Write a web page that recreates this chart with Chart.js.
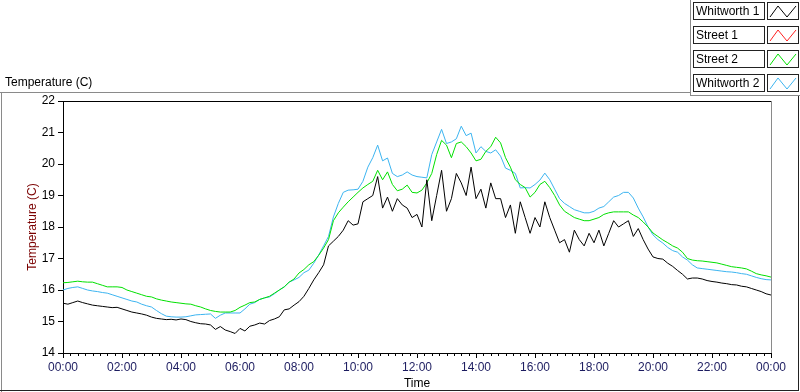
<!DOCTYPE html>
<html>
<head>
<meta charset="utf-8">
<script src="https://cdn.jsdelivr.net/npm/chart.js@4.4.0/dist/chart.umd.min.js"></script>
<style>
  body { margin: 0; background: #fff; font-family: "Liberation Sans", Arial, sans-serif; }
  #wrap { position: relative; width: 800px; height: 392px; overflow: hidden; }
  #myChart { position: absolute; left: 0; top: 0; }
  .ln { position: absolute; }
  #ttl { position: absolute; left: 5px; top: 75px; font-size: 12px; color: #000; }
  .lg-name { position: absolute; left: 693px; width: 68px; height: 16px; border: 1px solid #222;
             font-size: 12px; line-height: 16px; padding-left: 2px; box-sizing: content-box; color: #000; }
  .lg-sw { position: absolute; left: 767px; width: 30px; height: 16px; border: 1px solid #222; }
</style>
</head>
<body>
<div id="wrap">
  <canvas id="myChart" width="800" height="392"></canvas>
  <div id="ttl">Temperature (C)</div>
  <!-- panel frame -->
  <div class="ln" style="left:0;top:92px;width:690px;height:1px;background:#8a8a8a"></div>
  <div class="ln" style="left:1px;top:92px;width:1px;height:300px;background:#8a8a8a"></div>
  <div class="ln" style="left:690px;top:0;width:1px;height:96px;background:#8a8a8a"></div>
  <div class="ln" style="left:690px;top:95px;width:110px;height:1px;background:#8a8a8a"></div>
  <div class="ln" style="left:0;top:390px;width:799px;height:1px;background:#222"></div>
  <div class="ln" style="left:798px;top:96px;width:1px;height:295px;background:#222"></div>
  <div id="legend"></div>
</div>
<script>
// 10-minute samples, 00:00 .. 24:00
let seriesNames = ["Whitworth 1", "Street 1", "Street 2", "Whitworth 2"];
let seriesColors = ["#000000", "#ff2020", "#00e000", "#3cb4f0"];

let whitworth1 = [
    15.58, 15.55, 15.60, 15.65, 15.60, 15.56,
    15.52, 15.50, 15.48, 15.46, 15.44, 15.45,
    15.40, 15.35, 15.30, 15.27, 15.24, 15.20,
    15.14, 15.10, 15.08, 15.06, 15.07, 15.05,
    15.08, 15.06, 15.00, 14.96, 14.93, 14.92,
    14.89, 14.75, 14.84, 14.73, 14.68, 14.62,
    14.78, 14.70, 14.85, 14.89, 14.95, 14.92,
    15.03, 15.08, 15.15, 15.37, 15.40, 15.52,
    15.63, 15.80, 16.05, 16.32, 16.55, 16.80,
    17.40, 17.55, 17.70, 17.90, 18.20, 18.06,
    18.10, 18.80, 18.90, 19.00, 19.60, 18.60,
    18.95, 18.50, 18.90, 18.70, 18.60, 18.30,
    18.40, 18.00, 19.50, 18.20, 19.00, 19.80,
    18.50, 18.90, 19.70, 19.40, 19.00, 19.90,
    18.90, 19.20, 18.60, 19.40, 18.90, 18.90,
    18.30, 18.70, 17.80, 18.80, 18.30, 17.80,
    18.30, 18.00, 18.80, 18.30, 17.90, 17.50,
    17.60, 17.20, 17.90, 17.60, 17.40, 17.80,
    17.50, 17.90, 17.40, 17.80, 18.20, 18.00,
    18.10, 18.20, 17.70, 17.95, 17.60, 17.30,
    17.05, 17.00, 16.98, 16.85, 16.75, 16.62,
    16.50, 16.35, 16.38, 16.38, 16.35, 16.30,
    16.27, 16.25, 16.22, 16.20, 16.17, 16.16,
    16.12, 16.10, 16.05, 16.00, 15.95, 15.88,
    15.84
];

let street1 = [];

let street2 = [
    16.23, 16.24, 16.26, 16.28, 16.26, 16.25,
    16.25, 16.20, 16.15, 16.10, 16.10, 16.10,
    16.08, 16.00, 15.95, 15.90, 15.85, 15.80,
    15.78, 15.72, 15.68, 15.65, 15.62, 15.60,
    15.58, 15.56, 15.55, 15.50, 15.46, 15.40,
    15.35, 15.32, 15.30, 15.30, 15.30, 15.35,
    15.45, 15.52, 15.60, 15.62, 15.70, 15.75,
    15.80, 15.90, 16.00, 16.10, 16.25, 16.35,
    16.54, 16.65, 16.80, 16.90, 17.10, 17.33,
    17.60, 18.20, 18.45, 18.63, 18.80, 18.95,
    19.10, 19.24, 19.35, 19.45, 19.80, 19.50,
    19.75, 19.35, 19.15, 19.20, 19.33, 19.10,
    19.08, 19.17, 19.40, 19.70, 20.30, 20.75,
    20.60, 20.20, 20.65, 20.70, 20.55, 20.35,
    20.10, 20.15, 20.40, 20.55, 20.85, 20.67,
    20.20, 19.90, 19.50, 19.35, 19.25, 18.95,
    19.10, 19.35, 19.45, 19.25, 19.00, 18.70,
    18.50, 18.40, 18.30, 18.25, 18.20, 18.20,
    18.25, 18.30, 18.40, 18.45, 18.48, 18.48,
    18.48, 18.48, 18.38, 18.30, 18.16, 18.00,
    17.81, 17.70, 17.59, 17.50, 17.40, 17.33,
    17.20, 17.00, 16.95, 16.93, 16.92, 16.90,
    16.88, 16.86, 16.82, 16.78, 16.74, 16.72,
    16.70, 16.67, 16.60, 16.52, 16.48, 16.45,
    16.41
];

let whitworth2 = [
    16.00, 16.05, 16.08, 16.10, 16.05, 16.00,
    15.97, 15.95, 15.92, 15.90, 15.85, 15.80,
    15.75, 15.70, 15.65, 15.62, 15.55, 15.50,
    15.46, 15.35, 15.25, 15.17, 15.15, 15.14,
    15.14, 15.15, 15.18, 15.21, 15.22, 15.23,
    15.24, 15.10, 15.20, 15.27, 15.27, 15.27,
    15.27, 15.40, 15.55, 15.60, 15.70, 15.75,
    15.78, 15.88, 16.00, 16.10, 16.25, 16.32,
    16.40, 16.55, 16.63, 16.85, 17.11, 17.40,
    17.70, 18.32, 18.75, 19.10, 19.17, 19.18,
    19.20, 19.45, 19.90, 20.20, 20.60, 20.10,
    20.19, 19.70, 19.60, 19.65, 19.75, 19.65,
    19.60, 19.58, 19.56, 20.30, 20.70, 21.10,
    20.65, 20.70, 20.80, 21.20, 20.90, 20.98,
    20.35, 20.55, 20.40, 20.35, 20.45, 20.25,
    19.87, 19.80, 19.70, 19.24, 19.25, 19.24,
    19.35, 19.49, 19.71, 19.50, 19.20, 18.90,
    18.75, 18.65, 18.55, 18.50, 18.45, 18.45,
    18.50, 18.60, 18.65, 18.80, 18.95, 19.00,
    19.10, 19.10, 18.92, 18.60, 18.32, 18.00,
    17.75, 17.60, 17.49, 17.35, 17.25, 17.20,
    17.05, 16.95, 16.80, 16.70, 16.68, 16.66,
    16.64, 16.62, 16.60, 16.58, 16.57, 16.55,
    16.52, 16.50, 16.45, 16.40, 16.36, 16.33,
    16.32
];

let hours = whitworth1.map(function (v, i) { return i / 6; });
let yTicks = [14, 15, 16, 17, 18, 19, 20, 21, 22];

function toPoints(arr) {
    return arr.map(function (v, i) { return { x: hours[i], y: v }; });
}

(function () {
    let allData = [whitworth1, street1, street2, whitworth2];
    let legend = document.getElementById("legend");
    for (let i = 0; i < seriesNames.length; i++) {
        let top = 2 + i * 24;
        let name = document.createElement("div");
        name.className = "lg-name";
        name.style.top = top + "px";
        name.textContent = seriesNames[i];
        legend.appendChild(name);
        let sw = document.createElement("div");
        sw.className = "lg-sw";
        sw.style.top = top + "px";
        sw.innerHTML = '<svg width="30" height="16"><polyline points="2,14 10,3 19,14 28,3" fill="none" stroke="' +
            seriesColors[i] + '" stroke-width="1"/></svg>';
        legend.appendChild(sw);
    }

    let frame = {
        id: "frame",
        afterDraw: function (chart) {
            let c = chart.ctx;
            let a = chart.chartArea;
            let xs = chart.scales.x;
            c.save();
            c.lineWidth = 1;
            c.strokeStyle = "#000";
            c.beginPath();
            c.moveTo(a.left, a.top + 0.5);
            c.lineTo(a.right, a.top + 0.5);
            c.stroke();
            c.strokeStyle = "#8a8a8a";
            c.beginPath();
            c.moveTo(Math.round(a.right) + 0.5, a.top);
            c.lineTo(Math.round(a.right) + 0.5, a.bottom);
            c.stroke();
            // minor ticks every 15 minutes
            c.strokeStyle = "#000";
            c.beginPath();
            for (let m = 0; m <= 96; m++) {
                if (m % 8 === 0) continue;
                let px = Math.round(xs.getPixelForValue(m / 4)) + 0.5;
                c.moveTo(px, a.bottom);
                c.lineTo(px, a.bottom + 3);
            }
            c.stroke();
            c.restore();
        }
    };

    let ctx = document.getElementById("myChart").getContext("2d");
    let myChart = new Chart(ctx, {
        type: "line",
        data: {
            datasets: allData.map(function (arr, i) {
                return {
                    label: seriesNames[i],
                    data: toPoints(arr),
                    borderColor: seriesColors[i],
                    borderWidth: 1,
                    pointRadius: 0,
                    tension: 0,
                    fill: false
                };
            })
        },
        options: {
            responsive: false,
            animation: false,
            layout: { padding: { top: 101, right: 29, left: 0, bottom: 0 } },
            plugins: { legend: { display: false }, tooltip: { enabled: false } },
            scales: {
                x: {
                    type: "linear",
                    min: 0,
                    max: 24,
                    afterFit: function (s) { s.height = 39; },
                    ticks: {
                        stepSize: 2,
                        autoSkip: false,
                        maxRotation: 0,
                        padding: 2,
                        color: "#1c1c60",
                        font: { family: "Liberation Sans", size: 12 },
                        callback: function (v) {
                            let h = v % 24;
                            return (h < 10 ? "0" : "") + h + ":00";
                        }
                    },
                    grid: { drawOnChartArea: false, tickLength: 5, color: "#000" },
                    border: { color: "#000", width: 1 },
                    title: {
                        display: true,
                        text: "Time",
                        color: "#000",
                        padding: { top: 0, bottom: 1 },
                        font: { family: "Liberation Sans", size: 12 }
                    }
                },
                y: {
                    min: 14,
                    max: 22,
                    afterFit: function (s) { s.width = 63; },
                    afterBuildTicks: function (s) {
                        s.ticks = yTicks.map(function (v) { return { value: v }; });
                    },
                    ticks: {
                        padding: 3,
                        color: "#000",
                        font: { family: "Liberation Sans", size: 12 }
                    },
                    grid: { drawOnChartArea: false, tickLength: 5, color: "#000" },
                    border: { color: "#000", width: 1 },
                    title: {
                        display: true,
                        text: "Temperature (C)",
                        color: "#7a0000",
                        padding: { top: 25, bottom: 0 },
                        font: { family: "Liberation Sans", size: 12 }
                    }
                }
            }
        },
        plugins: [frame]
    });
})();
</script>
</body>
</html>
